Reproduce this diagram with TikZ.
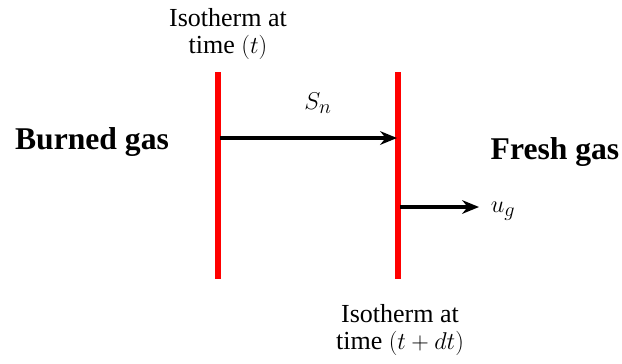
\documentclass[tikz,border=0pt]{standalone}
\usepackage{fontspec}
\setmainfont{Liberation Serif}
\usetikzlibrary{arrows.meta,positioning}

\begin{document}
\begin{tikzpicture}[
  x=0.025cm, y=-0.025cm,
  isotherm/.style={
    draw=red,
    line width=3.6pt,
  },
  arr/.style={
    -{Stealth[length=4.2mm, width=3.4mm]},
    line width=2.2pt,
    draw=black,
  },
  caption/.style={
    font=\fontsize{18.5}{19.5}\selectfont,
    align=center,
    inner sep=0pt,
  },
  gas/.style={
    font=\fontsize{22.5}{24}\selectfont\bfseries,
    inner sep=0pt,
  },
  sym/.style={
    font=\fontsize{19}{20}\selectfont,
    inner sep=0pt,
  },
]
\useasboundingbox (0,0) rectangle (622,363);

% isotherm lines
\coordinate (oldtop) at (218,72);
\coordinate (oldbot) at (218,279);
\coordinate (newtop) at (398,72);
\coordinate (newbot) at (398,279);
\draw[isotherm] (oldtop) -- (oldbot);
\draw[isotherm] (newtop) -- (newbot);

% labels of the isotherms
\node[caption] (oldlbl) at (228,34) {Isotherm at\\time $(t)$};
\node[caption] (newlbl) at (400,330) {Isotherm at\\time $(t+dt)$};

% gas sides
\node[gas] (burned) at (92,142) {Burned gas};
\node[gas] (fresh) at (555,152) {Fresh gas};

% flame speed and gas velocity
\coordinate (snstart) at (220,138);
\coordinate (snend) at (397,138);
\draw[arr] (snstart) -- (snend);
\node[sym] (sn) at (318,103) {$S_n$};

\coordinate (ugstart) at (400,207);
\coordinate (ugend) at (479,207);
\draw[arr] (ugstart) -- (ugend);
\node[sym] (ug) at (503,211) {$u_g$};

\end{tikzpicture}
\end{document}
